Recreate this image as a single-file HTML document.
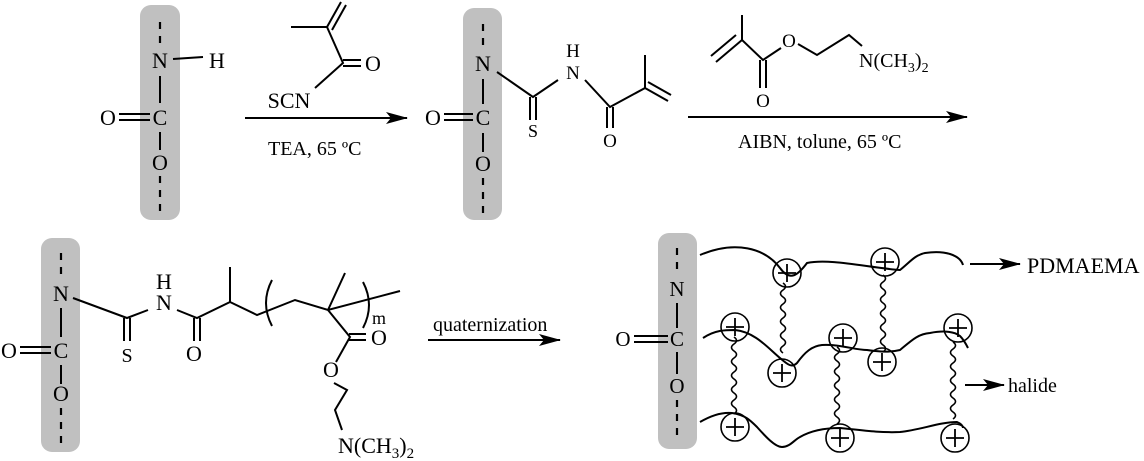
<!DOCTYPE html>
<html><head><meta charset="utf-8"><style>
html,body{margin:0;padding:0;background:#fff}
svg{display:block}
text{font-family:"Liberation Serif",serif;fill:#000}
.b{stroke:#000;stroke-width:2;fill:none}
.d{stroke:#000;stroke-width:2.2;stroke-dasharray:7,7;fill:none}
.a{font-size:22px;text-anchor:middle}
.m{font-size:19px;text-anchor:middle}
.s{font-size:20px}
</style></head><body>
<svg id="sv" width="1144" height="461" viewBox="0 0 1144 461" xmlns="http://www.w3.org/2000/svg">
<defs><marker id="ar" markerWidth="22" markerHeight="12" refX="21" refY="6" orient="auto" markerUnits="userSpaceOnUse"><path d="M0,0 L22,6 L0,12 L5,6 Z" fill="#000"/></marker></defs>

<!-- Panel 1 -->
<rect x="140" y="5" width="40" height="215" rx="11" fill="#c0c0c0"/>
<line class="d" x1="160" y1="22" x2="160" y2="50"/>
<text class="a" x="160" y="68">N</text>
<line class="b" x1="173" y1="59" x2="203" y2="57"/>
<text class="a" x="217" y="68">H</text>
<line class="b" x1="160" y1="76" x2="160" y2="103"/>
<text class="a" x="160" y="125">C</text>
<text class="a" x="108" y="125">O</text>
<line class="b" x1="119" y1="114" x2="150" y2="114"/><line class="b" x1="119" y1="120" x2="150" y2="120"/>
<line class="b" x1="160" y1="132" x2="160" y2="150"/>
<text class="a" x="160" y="170">O</text>
<line class="d" x1="160" y1="176" x2="160" y2="215"/>

<path class="b" d="M291,27 L327,27 L343,63 L315,88"/>
<line class="b" x1="327" y1="27" x2="341" y2="2"/><line class="b" x1="332" y1="30" x2="346" y2="5"/>
<line class="b" x1="343" y1="60" x2="361" y2="60"/><line class="b" x1="343" y1="66" x2="361" y2="66"/>
<text class="a" x="373" y="71">O</text>
<text class="a" x="289" y="108">SCN</text>
<line class="b" x1="245" y1="118" x2="407" y2="118" marker-end="url(#ar)"/>
<text class="s" x="268" y="155">TEA, 65 ºC</text>

<!-- Panel 2 -->
<rect x="463" y="8" width="39" height="212" rx="11" fill="#c0c0c0"/>
<line class="d" x1="483" y1="24" x2="483" y2="52"/>
<text class="a" x="483" y="71">N</text>
<line class="b" x1="483" y1="79" x2="483" y2="104"/>
<text class="a" x="483" y="125">C</text>
<text class="a" x="433" y="125">O</text>
<line class="b" x1="444" y1="114" x2="473" y2="114"/><line class="b" x1="444" y1="120" x2="473" y2="120"/>
<line class="b" x1="483" y1="133" x2="483" y2="152"/>
<text class="a" x="483" y="171">O</text>
<line class="d" x1="483" y1="178" x2="483" y2="216"/>
<path class="b" d="M497,72 L533,97 L558,80"/>
<line class="b" x1="530" y1="97" x2="530" y2="120"/><line class="b" x1="536" y1="97" x2="536" y2="120"/>
<text x="533" y="137" style="font-size:18px;text-anchor:middle">S</text>
<text class="m" x="573" y="57">H</text>
<text class="m" x="573" y="79">N</text>
<path class="b" d="M585,80 L610,107 L645,88 L645,55"/>
<line class="b" x1="607" y1="107" x2="607" y2="128"/><line class="b" x1="613" y1="107" x2="613" y2="128"/>
<text class="m" x="610" y="147">O</text>
<line class="b" x1="645" y1="88" x2="668" y2="101"/><line class="b" x1="648" y1="82" x2="671" y2="95"/>

<path class="b" d="M742,15 L742,40 L763,60 L781,48"/>
<line class="b" x1="716" y1="62" x2="742" y2="40"/><line class="b" x1="711" y1="56" x2="736" y2="35"/>
<line class="b" x1="760" y1="60" x2="760" y2="88"/><line class="b" x1="766" y1="60" x2="766" y2="88"/>
<text class="m" x="763" y="107">O</text>
<text class="m" x="789" y="47">O</text>
<path class="b" d="M798,44 L817,55 L849,35 L862,46"/>
<text x="859" y="67" style="font-size:20px">N(CH<tspan font-size="14" dy="5">3</tspan><tspan dy="-5">)</tspan><tspan font-size="14" dy="5">2</tspan></text>
<line class="b" x1="688" y1="117" x2="967" y2="117" marker-end="url(#ar)"/>
<text class="s" x="738" y="148">AIBN, tolune, 65 ºC</text>

<!-- Panel 3 -->
<rect x="41" y="238" width="39" height="214" rx="11" fill="#c0c0c0"/>
<line class="d" x1="61" y1="253" x2="61" y2="281"/>
<text class="a" x="61" y="301">N</text>
<line class="b" x1="61" y1="308" x2="61" y2="337"/>
<text class="a" x="61" y="358">C</text>
<text class="a" x="9" y="358">O</text>
<line class="b" x1="20" y1="347" x2="51" y2="347"/><line class="b" x1="20" y1="353" x2="51" y2="353"/>
<line class="b" x1="61" y1="365" x2="61" y2="384"/>
<text class="a" x="61" y="401">O</text>
<line class="d" x1="61" y1="408" x2="61" y2="446"/>
<path class="b" d="M73,298 L127,318 L148,310"/>
<line class="b" x1="124" y1="318" x2="124" y2="341"/><line class="b" x1="130" y1="318" x2="130" y2="341"/>
<text x="127" y="362" style="font-size:20px;text-anchor:middle">S</text>
<text class="a" x="164" y="289">H</text>
<text class="a" x="164" y="310">N</text>
<path class="b" d="M177,310 L197,318 L230,302 L230,267 M230,302 L257,315 L295,300 L328,310 L400,291 M328,310 L345,273 M328,310 L350,337 L336,362"/>
<line class="b" x1="194" y1="318" x2="194" y2="341"/><line class="b" x1="200" y1="318" x2="200" y2="341"/>
<text class="a" x="194" y="361">O</text>
<path class="b" d="M272,280 Q260,303 272,326"/>
<path class="b" d="M363,282 Q375,305 363,328"/>
<text x="372" y="324" style="font-size:18px">m</text>
<line class="b" x1="349" y1="334" x2="366" y2="334"/><line class="b" x1="349" y1="340" x2="366" y2="340"/>
<text class="a" x="379" y="345">O</text>
<text class="a" x="331" y="377">O</text>
<path class="b" d="M334,383 L347,390 L335,410 L342,430"/>
<text x="338" y="453" style="font-size:22px">N(CH<tspan font-size="15" dy="5">3</tspan><tspan dy="-5">)</tspan><tspan font-size="15" dy="5">2</tspan></text>
<text x="433" y="331" style="font-size:20px">quaternization</text>
<line class="b" x1="428" y1="340" x2="560" y2="340" marker-end="url(#ar)"/>

<!-- Panel 4 -->
<rect x="658" y="233" width="39" height="216" rx="11" fill="#c0c0c0"/>
<line class="d" x1="677" y1="248" x2="677" y2="275"/>
<text x="677" y="296" style="font-size:21px;text-anchor:middle">N</text>
<line class="b" x1="677" y1="303" x2="677" y2="328"/>
<text x="677" y="346" style="font-size:21px;text-anchor:middle">C</text>
<text x="623" y="346" style="font-size:21px;text-anchor:middle">O</text>
<line class="b" x1="634" y1="336" x2="668" y2="336"/><line class="b" x1="634" y1="342" x2="668" y2="342"/>
<line class="b" x1="677" y1="352" x2="677" y2="374"/>
<text x="677" y="393" style="font-size:21px;text-anchor:middle">O</text>
<line class="d" x1="677" y1="400" x2="677" y2="440"/>

<path class="b" d="M700,255 C735,240 765,248 780,268 C790,282 798,275 807,263 C830,258 870,268 900,270 C910,262 915,255 925,253 C945,250 960,255 963,265"/>
<path class="b" d="M703,338 C715,330 725,330 735,330 C755,332 768,348 780,358 C788,365 792,368 797,363 C805,352 812,346 822,345 C840,344 855,350 867,350 C880,352 892,352 900,350 C912,340 918,334 930,333 C945,330 955,332 960,336 C964,340 966,344 968,348"/>
<path class="b" d="M700,422 C712,415 722,412 732,413 C745,415 750,420 757,427 C765,436 775,447 782,447 C790,447 794,440 800,437 C812,430 828,428 840,428 C860,430 880,433 900,432 C920,430 940,422 957,422 C962,424 963,426 963,428"/>
<line class="b" x1="970" y1="264" x2="1020" y2="264" marker-end="url(#ar)"/>
<text x="1027" y="273" style="font-size:22px">PDMAEMA</text>
<line class="b" x1="965" y1="385" x2="1004" y2="385" marker-end="url(#ar)"/>
<text x="1008" y="392" style="font-size:20px">halide</text>
</svg>
<script>
var ns="http://www.w3.org/2000/svg",sv=document.getElementById('sv');
function el(t,a){var e=document.createElementNS(ns,t);for(var k in a)e.setAttribute(k,a[k]);sv.appendChild(e);return e;}
[[783,283,358],[883,275,352],[734,337,415],[837,347,427],[953,342,422]].forEach(function(w){
var x=w[0],y=w[1],d='M'+x+','+y,s=1;while(y+7<=w[2]){d+=' q'+(5*s)+',3.5 0,7';y+=7;s=-s;}
el('path',{d:d,fill:'none',stroke:'#000','stroke-width':1.6});});
[[787,273],[885,262],[735,327],[782,373],[843,338],[882,362],[958,328],[735,427],[840,438],[955,438]].forEach(function(c){
el('circle',{cx:c[0],cy:c[1],r:14,fill:'none',stroke:'#000','stroke-width':1.6});
el('line',{x1:c[0]-9,y1:c[1],x2:c[0]+9,y2:c[1],stroke:'#000','stroke-width':1.8});
el('line',{x1:c[0],y1:c[1]-9,x2:c[0],y2:c[1]+9,stroke:'#000','stroke-width':1.8});});
</script>
</body></html>
